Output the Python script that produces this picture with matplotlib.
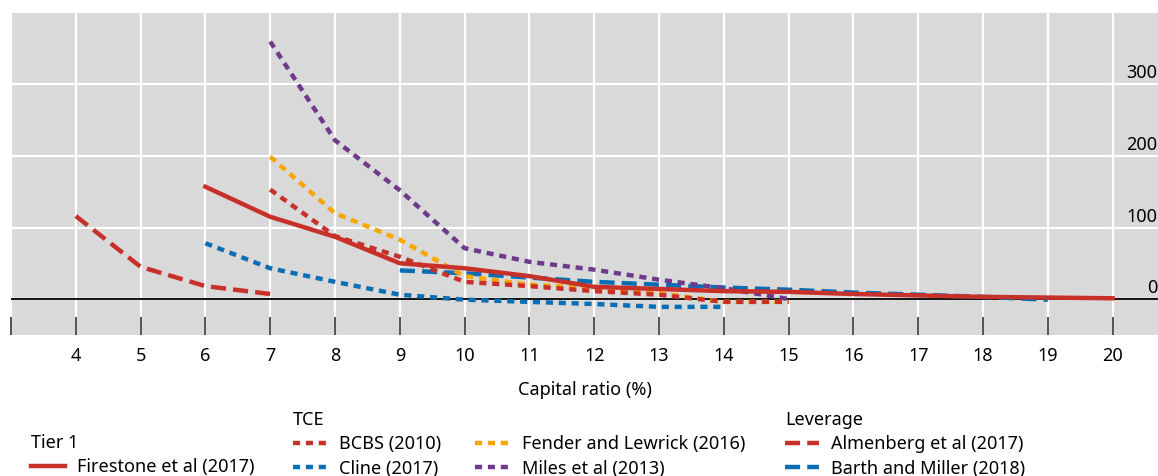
import numpy as np
import matplotlib.pyplot as plt
from matplotlib.transforms import blended_transform_factory, offset_copy

plt.rcParams['font.family'] = ['Noto Sans', 'DejaVu Sans']

# Series (capital ratio in %)
firestone_x = [6, 7, 8, 9, 10, 11, 12, 13, 14, 15, 16, 17, 18, 19, 20]
firestone_y = [157, 115, 87, 50, 43, 32, 17, 14, 11, 10, 7, 5, 3, 2, 1]

bcbs_x = [7, 8, 9, 10, 11, 12, 13, 14, 15]
bcbs_y = [153, 88, 59, 24, 18, 11, 6, -4, -4]

cline_x = [6, 7, 8, 9, 10, 11, 12, 13, 14]
cline_y = [78, 43, 24, 6, -1, -4, -7, -11, -11]

fender_x = [7, 8, 9, 10, 11, 12, 13, 14, 15]
fender_y = [199, 120, 83, 32, 20, 15, 8, -4, -4]

miles_x = [7, 8, 9, 10, 11, 12, 13, 14, 15]
miles_y = [360, 222, 152, 71, 52, 41, 27, 15, 0]

almenberg_x = [4, 5, 6, 7]
almenberg_y = [116, 45, 18, 7]

barth_x = [9, 10, 11, 12, 13, 14, 15, 16, 17, 18, 19]
barth_y = [40, 36, 30, 24, 20, 16, 13, 9, 6, 3, -1]

x_ticks = list(range(3, 21))
x_ticklabels = [''] + [str(i) for i in range(4, 21)]
y_ticks = [0, 100, 200, 300]

RED = '#c8302a'
BLUE = '#0a6eb4'
ORANGE = '#f7a600'
PURPLE = '#6e3a8c'

W, H = 1158, 476
fig = plt.figure(figsize=(W / 100, H / 100), dpi=100)
ax = fig.add_axes([11 / W, 141.25 / H, 1 - 11 / W, 321.75 / H])
ax.set_facecolor('#d9d9d9')
ax.set_xlim(3, 20.7)
ax.set_ylim(-50, 400)

for s in ax.spines.values():
    s.set_visible(False)

ax.set_xticks(x_ticks)
ax.set_xticklabels(x_ticklabels)
ax.set_yticks(y_ticks)
ax.set_yticklabels([])
ax.tick_params(axis='y', length=0)
ax.tick_params(axis='x', direction='in', length=13, width=1.3, color='#444444',
               pad=9, labelsize=13)
ax.grid(color='white', lw=1.6)
ax.set_axisbelow(True)
ax.axhline(0, color='black', lw=1.3, zorder=2)

trans = offset_copy(blended_transform_factory(ax.transAxes, ax.transData),
                    fig=fig, x=-1, y=2, units='dots')
for v in y_ticks:
    ax.text(1.0, v, str(v), transform=trans, ha='right', va='bottom', fontsize=13)

lw = 3.2
dot = (1.6, 1.3)
dash = (3.4, 1.6)

l_barth, = ax.plot(barth_x, barth_y, color=BLUE, lw=lw, dashes=dash,
                   label='Barth and Miller (2018)', zorder=3)
l_cline, = ax.plot(cline_x, cline_y, color=BLUE, lw=lw, dashes=dot,
                   label='Cline (2017)', zorder=3)
l_miles, = ax.plot(miles_x, miles_y, color=PURPLE, lw=lw, dashes=dot,
                   label='Miles et al (2013)', zorder=3)
l_fender, = ax.plot(fender_x, fender_y, color=ORANGE, lw=lw, dashes=dot,
                    label='Fender and Lewrick (2016)', zorder=3)
l_bcbs, = ax.plot(bcbs_x, bcbs_y, color=RED, lw=lw, dashes=dot,
                  label='BCBS (2010)', zorder=3)
l_alm, = ax.plot(almenberg_x, almenberg_y, color=RED, lw=lw, dashes=dash,
                 label='Almenberg et al (2017)', zorder=3)
l_fire, = ax.plot(firestone_x, firestone_y, color=RED, lw=lw,
                  label='Firestone et al (2017)', zorder=4)

ax.set_xlabel('Capital ratio (%)', fontsize=13, labelpad=11.5)

leg_kw = dict(frameon=False, loc='upper left', borderpad=0, fontsize=13,
              title_fontsize=13, alignment='left', handlelength=1.9,
              handletextpad=0.65, labelspacing=0.35, columnspacing=1.9,
              borderaxespad=0)
fig.legend(handles=[l_fire], title='Tier 1',
           bbox_to_anchor=(31 / W, 42 / H), **leg_kw)
fig.legend(handles=[l_bcbs, l_cline, l_fender, l_miles], title='TCE', ncol=2,
           bbox_to_anchor=(293 / W, 65 / H), **leg_kw)
fig.legend(handles=[l_alm, l_barth], title='Leverage',
           bbox_to_anchor=(785 / W, 65 / H), **leg_kw)

fig.savefig('out.png', dpi=100)
